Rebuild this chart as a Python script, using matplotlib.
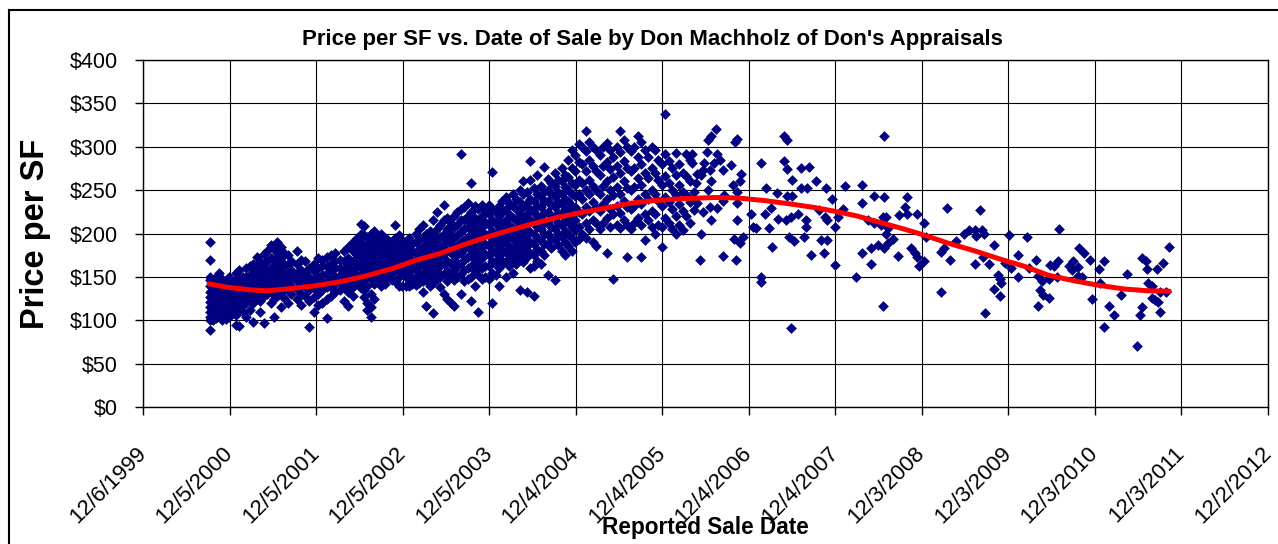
import numpy as np
import pandas as pd
import matplotlib
matplotlib.use('Agg')
import matplotlib.pyplot as plt
import matplotlib.dates as mdates
from matplotlib.lines import Line2D
from datetime import datetime

plt.rcParams['font.family'] = ['Liberation Sans', 'DejaVu Sans']

# sale date (decimal year) columns and the prices per SF read in each column
early_cols = [2000.70, 2000.73, 2000.77, 2000.80, 2000.84, 2000.88, 2000.92, 2000.96,
              2001.00, 2001.04, 2001.08, 2001.12, 2001.16, 2001.20, 2001.24, 2001.28,
              2001.32, 2001.36, 2001.40, 2001.44, 2001.48, 2001.52, 2001.56, 2001.60,
              2001.64, 2001.70, 2001.75, 2001.80, 2001.85, 2001.90, 2001.95, 2002.00,
              2002.05, 2002.10, 2002.15, 2002.20, 2002.25, 2002.30, 2002.35, 2002.40]
early_prices = [
    [190, 170, 150, 146, 140, 133, 127, 121, 115, 110, 104, 100, 89],
    [145, 138, 130, 125, 118, 112, 106, 100],
    [150, 142, 136, 128, 122, 116, 108, 103],
    [155, 147, 140, 133, 126, 119, 112, 105],
    [148, 138, 130, 124, 115, 108, 100],
    [143, 135, 128, 120, 113, 106, 102],
    [150, 140, 132, 125, 118, 110, 104],
    [145, 136, 129, 121, 114, 108],
    [155, 146, 139, 131, 123, 113, 106, 95],
    [158, 148, 140, 132, 125, 118, 93],
    [150, 142, 134, 126, 118, 110],
    [160, 150, 143, 136, 128, 120, 104],
    [162, 152, 144, 136, 127, 112],
    [165, 155, 147, 139, 130, 120, 98],
    [173, 160, 150, 141, 133, 125],
    [168, 158, 149, 140, 132, 122, 110],
    [176, 165, 153, 145, 137, 128, 97],
    [180, 168, 157, 148, 140, 130],
    [187, 172, 160, 150, 142, 133, 120],
    [182, 170, 162, 153, 145, 136, 125, 104],
    [190, 178, 165, 155, 146, 138, 128],
    [185, 172, 160, 150, 141, 131, 115],
    [178, 165, 155, 147, 138, 126],
    [175, 162, 152, 143, 135, 120],
    [168, 158, 150, 140, 130],
    [180, 165, 155, 145, 136, 125],
    [170, 158, 148, 140, 130, 118],
    [168, 155, 147, 138, 128],
    [160, 150, 143, 135, 122, 92],
    [165, 157, 148, 137, 127, 110],
    [172, 160, 150, 140, 130, 118],
    [170, 162, 152, 144, 135, 120],
    [173, 163, 155, 145, 138, 125, 103],
    [175, 165, 157, 148, 138, 128],
    [178, 168, 160, 150, 142, 132],
    [170, 160, 152, 145, 135],
    [180, 168, 158, 150, 140, 122],
    [185, 172, 162, 153, 143, 133, 117],
    [190, 180, 168, 158, 148, 138, 128],
    [195, 185, 175, 163, 152, 142],
]

mid_cols = [2002.44, 2002.48, 2002.52, 2002.56, 2002.60, 2002.64, 2002.68, 2002.72,
            2002.76, 2002.80, 2002.84, 2002.88, 2002.92, 2002.96, 2003.00, 2003.04,
            2003.08, 2003.12, 2003.16, 2003.20, 2003.24, 2003.28, 2003.32, 2003.36,
            2003.40, 2003.44, 2003.48, 2003.52, 2003.56, 2003.60, 2003.64, 2003.68,
            2003.72, 2003.76, 2003.80, 2003.84, 2003.88, 2003.92, 2003.96, 2004.00,
            2004.04, 2004.08, 2004.12, 2004.16, 2004.20, 2004.24, 2004.28, 2004.32,
            2004.36]
mid_prices = [
    [211, 200, 190, 182, 175, 168, 160, 152, 145, 137],
    [209, 198, 186, 178, 170, 162, 155, 146, 135, 127],
    [196, 188, 180, 172, 165, 158, 150, 140, 120, 112],
    [200, 192, 183, 174, 166, 157, 148, 130, 115, 104],
    [203, 194, 185, 177, 168, 160, 151, 142, 125],
    [197, 188, 180, 170, 162, 153, 145],
    [200, 190, 182, 173, 165, 156, 148, 140],
    [195, 186, 178, 168, 160, 150, 142],
    [192, 183, 175, 166, 158, 150],
    [190, 181, 172, 163, 155, 146],
    [210, 195, 185, 176, 167, 158, 145],
    [198, 188, 180, 170, 162, 150, 140],
    [192, 183, 174, 165, 155, 139],
    [190, 180, 170, 160, 150, 140],
    [195, 185, 176, 166, 157, 147, 139],
    [188, 180, 170, 160, 150, 142],
    [200, 190, 178, 168, 158, 148, 141],
    [205, 192, 182, 172, 162, 152, 143],
    [210, 196, 185, 175, 165, 155, 145, 133],
    [200, 188, 178, 167, 157, 146, 116],
    [203, 193, 182, 170, 160, 150, 140],
    [215, 198, 186, 175, 163, 153, 143, 108],
    [225, 205, 192, 180, 168, 157, 147],
    [210, 196, 185, 173, 162, 150, 138],
    [233, 215, 200, 188, 176, 165, 153, 130],
    [218, 205, 192, 180, 168, 157, 145, 125],
    [212, 200, 188, 177, 165, 152, 120],
    [220, 207, 195, 183, 170, 158, 146, 116],
    [225, 210, 198, 186, 175, 162, 150],
    [292, 228, 215, 202, 190, 178, 166, 153, 130],
    [230, 216, 205, 193, 182, 170, 158, 145],
    [235, 220, 208, 196, 185, 173, 160, 148],
    [258, 225, 212, 200, 188, 176, 163, 150, 122],
    [232, 218, 206, 194, 182, 170, 157, 140],
    [228, 214, 202, 190, 178, 165, 152, 110],
    [233, 220, 208, 196, 184, 172, 160, 147],
    [226, 213, 200, 188, 176, 163, 150],
    [233, 222, 210, 198, 186, 175, 162, 148],
    [271, 228, 215, 203, 191, 180, 168, 155, 120],
    [225, 212, 200, 188, 177, 165, 152],
    [232, 220, 207, 195, 183, 172, 160, 140],
    [238, 225, 212, 200, 188, 177, 165],
    [242, 228, 216, 204, 192, 180, 168, 150],
    [235, 222, 210, 198, 186, 175, 162],
    [245, 232, 218, 206, 194, 182, 170, 155],
    [240, 228, 215, 203, 190, 178, 165],
    [250, 236, 222, 210, 197, 185, 172, 135],
    [260, 245, 230, 217, 204, 192, 180, 167],
    [248, 235, 222, 210, 198, 186, 173, 133],
]

peak_cols = [2004.40, 2004.44, 2004.48, 2004.52, 2004.56, 2004.60, 2004.64, 2004.68,
             2004.72, 2004.76, 2004.80, 2004.84, 2004.88, 2004.92, 2004.96, 2005.00,
             2005.04, 2005.08, 2005.12, 2005.16, 2005.20, 2005.24, 2005.28, 2005.32,
             2005.36, 2005.40, 2005.44, 2005.48, 2005.52, 2005.56, 2005.60, 2005.64,
             2005.68, 2005.72, 2005.76, 2005.80, 2005.84, 2005.88, 2005.92, 2005.96,
             2006.00, 2006.04, 2006.08, 2006.12, 2006.16, 2006.20, 2006.24]
peak_prices = [
    [283, 262, 240, 228, 215, 202, 190, 177, 160],
    [252, 238, 225, 212, 200, 188, 175, 162, 128],
    [267, 245, 232, 220, 207, 195, 182, 168],
    [255, 242, 230, 218, 205, 192, 180, 165],
    [277, 248, 236, 224, 212, 200, 188, 175],
    [263, 250, 238, 225, 213, 200, 188, 152],
    [258, 245, 233, 220, 208, 195, 183],
    [270, 255, 242, 230, 218, 205, 192, 146],
    [262, 248, 236, 224, 212, 200, 187],
    [275, 260, 246, 234, 222, 210, 196, 180],
    [268, 254, 240, 228, 215, 203, 190, 175],
    [285, 265, 250, 238, 226, 213, 200, 186],
    [296, 276, 258, 245, 232, 220, 207, 195, 180],
    [290, 272, 256, 243, 230, 216, 204, 190],
    [303, 282, 262, 245, 225, 208, 194],
    [300, 280, 258, 240, 222, 200],
    [318, 295, 272, 250, 230, 212, 195],
    [305, 285, 262, 245, 226, 205],
    [300, 278, 255, 236, 215, 190],
    [296, 272, 250, 230, 212, 186],
    [290, 268, 246, 226, 205],
    [300, 278, 255, 234, 212],
    [304, 282, 260, 240, 218, 177],
    [296, 274, 250, 228, 208],
    [288, 265, 244, 222, 148],
    [300, 278, 254, 232, 210],
    [318, 294, 270, 246, 224, 206],
    [308, 284, 260, 238, 215],
    [300, 276, 252, 230, 210, 173],
    [295, 272, 250, 228, 205],
    [300, 276, 254, 232, 212],
    [312, 288, 264, 240, 218],
    [305, 280, 256, 234, 210, 173],
    [296, 270, 246, 222, 192],
    [288, 264, 240, 215],
    [300, 276, 250, 226, 208],
    [296, 270, 246, 222, 200],
    [285, 262, 238, 210],
    [280, 256, 232, 208, 185],
    [338, 292, 266, 242, 218],
    [283, 258, 236, 212],
    [275, 250, 228, 205],
    [293, 268, 244, 220, 200],
    [280, 256, 234, 210],
    [270, 248, 226, 204],
    [292, 266, 244, 220],
    [285, 260, 236, 212],
]

# sparser sales after mid 2006, one entry per point
late_years = [
    2006.27, 2006.27, 2006.31, 2006.33, 2006.29, 2006.39, 2006.37, 2006.41, 2006.44, 2006.45,
    2006.49, 2006.54, 2006.47, 2006.49, 2006.45, 2006.56, 2006.59, 2006.62, 2006.52, 2006.25,
    2006.29, 2006.33, 2006.39, 2006.47, 2006.49, 2006.56, 2006.62, 2006.64, 2006.37, 2006.36,
    2006.62, 2006.72, 2006.76, 2006.79, 2006.74, 2006.79, 2006.82, 2006.79, 2006.79, 2006.75,
    2006.82, 2006.86, 2006.77, 2006.83, 2006.95, 2006.97, 2007.01, 2007.07, 2007.06, 2007.07,
    2007.12, 2007.25, 2007.11, 2007.18, 2007.16, 2007.19, 2007.26, 2007.33, 2007.36, 2007.33,
    2007.37, 2007.42, 2007.37, 2007.42, 2007.35, 2007.41, 2007.39, 2007.45, 2007.41, 2007.53,
    2007.53, 2007.49, 2007.58, 2007.56, 2007.60, 2007.62, 2007.58, 2007.64, 2007.70, 2007.81,
    2007.74, 2007.80, 2007.83, 2007.76, 2007.83, 2007.79, 2007.89, 2007.95, 2007.92, 2007.92,
    2008.01, 2008.03, 2008.16, 2008.23, 2008.23, 2008.23, 2008.33, 2008.33,
    2008.37, 2008.49, 2008.49, 2008.75, 2008.73, 2008.75, 2008.66, 2008.87, 2008.94, 2008.47,
    2008.51, 2008.30, 2008.37, 2008.45, 2008.53, 2008.51, 2008.59, 2008.53, 2008.49, 2008.41,
    2008.65, 2008.80, 2008.84, 2008.87, 2008.89, 2008.95, 2008.97, 2008.47,
    2009.21, 2009.14, 2009.18, 2009.25, 2009.32, 2009.14, 2009.59, 2009.41, 2009.47, 2009.53,
    2009.61, 2009.55, 2009.64, 2009.75, 2009.63, 2009.53, 2009.70, 2009.65, 2009.93, 2010.14,
    2010.03, 2009.88, 2009.95, 2010.03, 2009.80, 2009.82, 2009.84, 2009.76, 2009.82, 2010.16,
    2010.24, 2010.26, 2010.31, 2010.29, 2010.32, 2010.39, 2010.39, 2010.40, 2010.45, 2010.49,
    2010.48, 2010.26, 2010.50, 2010.62, 2010.67, 2010.65, 2010.72, 2010.74, 2010.79, 2010.72,
    2010.77, 2010.86, 2010.89, 2010.97, 2011.02, 2010.98, 2011.08, 2011.14, 2011.03, 2011.22,
    2011.29, 2011.41, 2011.47, 2011.51, 2011.52, 2011.53, 2011.58, 2011.58, 2011.61, 2011.65,
    2011.47, 2011.44, 2011.67, 2011.64, 2011.71, 2011.78, 2011.74, 2011.67,
]
late_prices = [
    292, 281, 258, 269, 248, 273, 267, 281, 294, 308,
    312, 321, 273, 260, 250, 292, 285, 273, 281, 239,
    227, 235, 225, 231, 216, 229, 237, 244, 200, 170,
    174, 279, 306, 309, 256, 248, 260, 235, 216, 194,
    189, 196, 170, 269, 223, 208, 206, 281, 150, 144,
    252, 247, 223, 229, 206, 185, 217, 312, 308, 283,
    274, 262, 243, 243, 216, 219, 196, 191, 91, 275,
    252, 223, 216, 196, 252, 277, 208, 175, 260, 252,
    227, 219, 216, 193, 193, 177, 240, 219, 208, 164,
    228, 255, 150, 256, 235, 177, 183, 165,
    243, 242, 312, 242, 230, 223, 221, 223, 212, 219,
    219, 216, 212, 210, 206, 200, 194, 189, 183, 187,
    174, 183, 177, 173, 163, 168, 196, 117,
    229, 179, 183, 170, 191, 132, 227, 200, 204, 204,
    204, 197, 199, 187, 173, 165, 165, 108, 198, 196,
    175, 166, 160, 150, 152, 147, 143, 136, 128, 160,
    170, 151, 145, 135, 129, 126, 147, 164, 163, 168,
    150, 116, 205, 162, 168, 158, 161, 183, 177, 151,
    150, 170, 125, 159, 168, 143, 116, 106, 92, 129,
    153, 70, 172, 168, 159, 143, 140, 126, 123, 121,
    115, 106, 110, 159, 166, 185, 132, 133,
]

# red trend line
trend_years = [2000.69, 2000.90, 2001.17, 2001.36, 2001.59, 2001.90, 2002.21, 2002.52,
               2002.82, 2003.09, 2003.36, 2003.63, 2003.90, 2004.17, 2004.44, 2004.71,
               2004.98, 2005.25, 2005.56, 2005.83, 2006.14, 2006.52, 2006.79, 2007.10,
               2007.41, 2007.68, 2007.95, 2008.18, 2008.45, 2008.72, 2008.95, 2009.22,
               2009.53, 2009.84, 2010.11, 2010.38, 2010.68, 2010.95, 2011.26, 2011.53,
               2011.78]
trend_prices = [142, 138, 135, 134, 136, 139.5, 144.5, 151.5,
                160, 169.5, 177, 187, 196, 204, 211.5, 218.5,
                224, 229, 235, 238, 240, 241.5, 241, 238,
                234, 230, 225, 220, 212.5, 205, 198, 189,
                180, 170, 162, 152, 145.5, 140.5, 136, 134,
                133.5]

tick_labels = ['12/6/1999', '12/5/2000', '12/5/2001', '12/5/2002', '12/5/2003',
               '12/4/2004', '12/4/2005', '12/4/2006', '12/4/2007', '12/3/2008',
               '12/3/2009', '12/3/2010', '12/3/2011', '12/2/2012']
price_ticks = [0, 50, 100, 150, 200, 250, 300, 350, 400]


def year_to_num(y):
    yr = int(y)
    start = datetime(yr, 1, 1)
    ndays = (datetime(yr + 1, 1, 1) - start).days
    return mdates.date2num(start) + (y - yr) * ndays


years = []
prices = []
for cols, vals in [(early_cols, early_prices), (mid_cols, mid_prices), (peak_cols, peak_prices)]:
    for c, col_vals in zip(cols, vals):
        years += [c] * len(col_vals)
        prices += col_vals
years += late_years
prices += late_prices
xnum = [year_to_num(y) for y in years]
trend_num = [year_to_num(y) for y in trend_years]

fig = plt.figure(figsize=(12.78, 5.44), dpi=100)
ax = fig.add_axes([143 / 1278, 1 - 407 / 544, 1125 / 1278, 347 / 544])

ax.scatter(xnum, prices, marker='D', s=30, color='#000080', linewidths=0, zorder=3)
ax.plot(trend_num, trend_prices, color='#ff0000', linewidth=3.6, zorder=4,
        solid_joinstyle='round', solid_capstyle='round')

tick_pos = mdates.date2num(pd.to_datetime(tick_labels, format='%m/%d/%Y'))
ax.set_xlim(tick_pos[0], tick_pos[-1])
ax.set_xticks(tick_pos)
ax.set_xticklabels(tick_labels, rotation=45, ha='right', va='center',
                   rotation_mode='anchor', fontsize=16)
ax.set_ylim(0, 400)
ax.set_yticks(price_ticks)
ax.set_yticklabels([f'${v}' for v in price_ticks], fontsize=15.5)
ax.tick_params(axis='x', direction='out', length=6, width=1, pad=25)
ax.tick_params(axis='y', direction='out', length=6, width=1, pad=12)
ax.grid(True, color='black', linewidth=0.8)
ax.set_axisbelow(True)
for s in ax.spines.values():
    s.set_linewidth(1.0)

ax.set_ylabel('Price per SF', fontsize=23.5, fontweight='bold')
ax.yaxis.set_label_coords(-0.082, 0.5)
ax.set_xlabel('Reported Sale Date', fontsize=16.3, fontweight='bold')
ax.xaxis.set_label_coords(0.5, -0.315)

fig.text(652 / 1278, 1 - 40 / 544,
         "Price per SF vs. Date of Sale by Don Machholz of Don's Appraisals",
         ha='center', va='center', fontsize=16, fontweight='bold')

# chart area border (top and left visible)
fig.add_artist(Line2D([9 / 1278, 1], [1 - 10 / 544, 1 - 10 / 544], transform=fig.transFigure,
                      color='black', linewidth=1.5))
fig.add_artist(Line2D([9 / 1278, 9 / 1278], [0, 1 - 10 / 544], transform=fig.transFigure,
                      color='black', linewidth=1.5))

fig.savefig('out.png', dpi=100)
